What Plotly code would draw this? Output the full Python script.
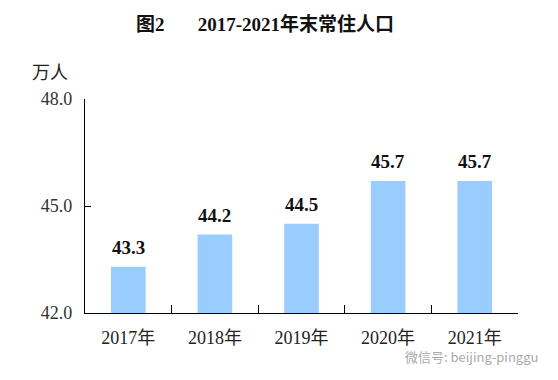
import plotly.graph_objects as go

categories = ["2017年", "2018年", "2019年", "2020年", "2021年"]
values = [43.3, 44.2, 44.5, 45.7, 45.7]
value_labels = ["43.3", "44.2", "44.5", "45.7", "45.7"]
y_ticks = [42.0, 45.0, 48.0]
y_tick_labels = ["42.0", "45.0", "48.0"]

SERIF = "Liberation Serif, Noto Sans CJK SC, serif"

fig = go.Figure(go.Bar(
    x=categories, y=values,
    marker=dict(color="#99CCFF", line=dict(width=0)),
    width=0.4, cliponaxis=False,
))

label_annotations = [
    dict(x=c, y=v, text="<b>%s</b>" % t, xref="x", yref="y", showarrow=False,
         yanchor="bottom", yshift=7,
         font=dict(family=SERIF, size=19, color="#111111"))
    for c, v, t in zip(categories, values, value_labels)
]

fig.update_layout(
    width=558, height=380,
    margin=dict(l=85, r=40, t=99, b=67),
    paper_bgcolor="white", plot_bgcolor="white",
    showlegend=False,
    title=dict(
        text="<b>图2\u00a0\u00a0\u00a0\u00a0\u00a0\u00a0\u00a02017-2021年末常住人口</b>",
        x=265 / 558, xanchor="center", y=1 - 24 / 380, yanchor="middle",
        font=dict(family=SERIF, size=19, color="#111111"),
    ),
    xaxis=dict(
        type="category", showline=True, linecolor="black", linewidth=1.2,
        ticks="inside", ticklen=8, tickcolor="black", tickson="boundaries",
        tickfont=dict(family=SERIF, size=18, color="#222222"),
        showgrid=False, ticklabelstandoff=8,
    ),
    yaxis=dict(
        range=[42, 48], tickvals=y_ticks, ticktext=y_tick_labels,
        showline=True, linecolor="black", linewidth=1.2,
        ticks="inside", ticklen=6, tickcolor="black",
        tickfont=dict(family=SERIF, size=18, color="#333333"),
        showgrid=False, zeroline=False, ticklabelstandoff=8,
    ),
    annotations=label_annotations + [
        dict(text="万人", xref="paper", yref="paper",
             x=0, y=0, showarrow=False,
             font=dict(family=SERIF, size=18, color="#222222")),
        dict(text="微信号: beijing-pinggu", xref="paper", yref="paper",
             x=0, y=0, showarrow=False,
             font=dict(family="Noto Sans CJK SC, sans-serif", size=13, color="#aaaaaa")),
    ],
)

# position annotations in pixel terms relative to plot area
pw = 558 - 85 - 40
ph = 380 - 99 - 67
n = len(label_annotations)
fig.layout.annotations[n].update(x=(50 - 85) / pw, y=(313 - 73) / ph, xanchor="center", yanchor="middle")
fig.layout.annotations[n + 1].update(x=(540 - 85) / pw, y=(313 - 356) / ph, xanchor="right", yanchor="middle")

fig.write_html("out.html", config={"displayModeBar": False},
               post_script="document.body.style.margin='0';document.body.style.overflow='hidden';")
